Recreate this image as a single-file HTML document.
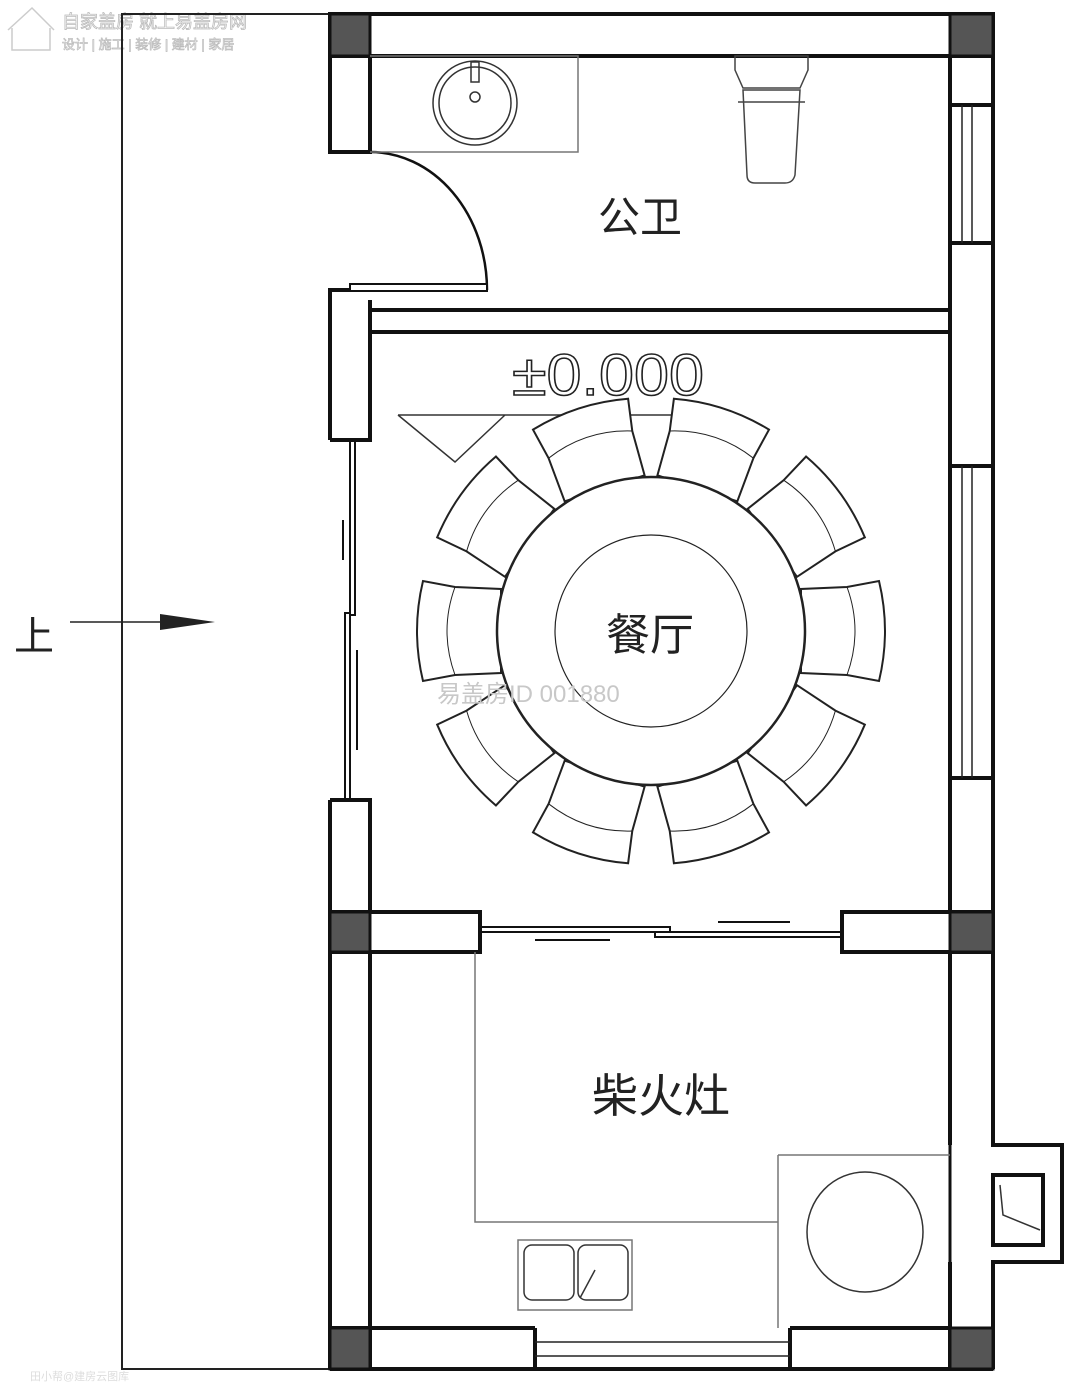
<!DOCTYPE html>
<html><head><meta charset="utf-8"><style>
html,body{margin:0;padding:0;background:#fff;}
svg{display:block;}
text{font-family:"Liberation Sans","Noto Sans CJK SC",sans-serif;}
</style></head><body>
<svg width="1080" height="1385" viewBox="0 0 1080 1385" xmlns="http://www.w3.org/2000/svg">
<rect width="1080" height="1385" fill="#fff"/>
<g fill="none" stroke="#ccc" stroke-width="1.5">
<path d="M8 30 L32 8 L54 30 M12 28 V50 H50 V28"/>
</g>
<text x="62" y="28" font-size="18" fill="#fff" stroke="#bbb" stroke-width="0.8">自家盖房 就上易盖房网</text>
<text x="62" y="49" font-size="13" fill="#fff" stroke="#bbb" stroke-width="0.7">设计 | 施工 | 装修 | 建材 | 家居</text>

<g stroke="#222" stroke-width="2" fill="none">
<path d="M330 14 H122 V1369 H330"/>
</g>
<line x1="70" y1="622" x2="170" y2="622" stroke="#222" stroke-width="1.5"/>
<polygon points="160,614 215,622 160,630" fill="#222"/>
<text x="14" y="650" font-size="40" fill="#222">上</text>

<g stroke="#111" stroke-width="4" fill="none">
<rect x="330" y="14" width="663" height="42"/>
<path d="M330 56 V152 H370 V56"/>
<path d="M330 440 V290 H350 M370 300 V332 M330 440 H370 V332"/>
<path d="M370 310 H950 M370 332 H950"/>
<path d="M950 56 V105 H993 V14 M950 243 H993 V466 H950 V243 M950 778 H993 V912 M950 778 V912"/>
<path d="M950 105 V243 M993 105 V243 M950 466 V778 M993 466 V778" />
<path d="M330 800 H370 V912 M330 800 V1369"/>
<path d="M370 952 V1328"/>
<rect x="330" y="912" width="150" height="40"/>
<rect x="842" y="912" width="151" height="40"/>
<path d="M950 952 V1145 M993 952 V1145 H1062 V1262 H993 V1369 M950 1262 V1328"/>
<path d="M950 1145 V1262" stroke-width="3"/>
<rect x="993" y="1175" width="50" height="70" stroke-width="4"/>
<path d="M330 1328 H535 M330 1369 H993 M790 1328 H950 V1369 M535 1328 V1369 M790 1328 V1369"/>
<path d="M370 1328 V1369"/>
</g>
<g fill="#555" stroke="#111" stroke-width="3">
<rect x="330" y="14" width="40" height="42"/>
<rect x="950" y="14" width="43" height="42"/>
<rect x="330" y="912" width="40" height="40"/>
<rect x="950" y="912" width="43" height="40"/>
<rect x="330" y="1328" width="40" height="41"/>
<rect x="950" y="1328" width="43" height="41"/>
</g>
<g stroke="#222" stroke-width="1.5" fill="none">
<path d="M962 105 V243 M972 105 V243 M962 466 V778 M972 466 V778"/>
<path d="M535 1342 H790 M535 1356 H790"/>
</g>
<path d="M370 152 A117 138 0 0 1 487 290" stroke="#111" stroke-width="2.5" fill="none"/>
<rect x="350" y="284" width="137" height="7" stroke="#111" stroke-width="2" fill="#fff"/>
<g stroke="#111" stroke-width="2" fill="none">
<rect x="350" y="440" width="5" height="175"/>
<rect x="345" y="613" width="5" height="187"/>
<path d="M343 520 V560 M357 650 V750"/>
</g>
<g stroke="#111" stroke-width="2" fill="none">
<rect x="480" y="927" width="190" height="5"/>
<rect x="655" y="932" width="187" height="5"/>
<path d="M535 940 H610 M718 922 H790"/>
</g>
<g stroke="#777" stroke-width="1.5" fill="none">
<path d="M370 56 H578 V152 H370"/>
<circle cx="475" cy="103" r="42" stroke="#333"/>
<circle cx="475" cy="103" r="36" stroke="#333"/>
<path d="M471 62 H479 V82 H471 Z" stroke="#333"/>
<circle cx="475" cy="97" r="5" stroke="#333"/>
<path d="M735 56 H808 V70 L800 88 H743 L735 70 Z" stroke="#444"/>
<path d="M743 90 H800 L795 175 Q793 183 785 183 H755 Q747 183 747 175 Z" stroke="#444"/>
<path d="M738 102 H805" stroke="#444"/>
<path d="M475 952 V1222 H778 M778 1155 H950 M778 1155 V1328"/>
<ellipse cx="865" cy="1232" rx="58" ry="60" stroke="#333"/>
<rect x="518" y="1240" width="114" height="70"/>
<rect x="524" y="1245" width="50" height="55" rx="8" stroke="#333"/>
<rect x="578" y="1245" width="50" height="55" rx="8" stroke="#333"/>
<path d="M595 1270 L580 1298" stroke="#333"/>
<path d="M1000 1185 L1003 1215 L1040 1230" stroke="#333"/>
</g>
<g stroke="#333" stroke-width="1.5" fill="none">
<path d="M398 415 H705 M398 415 L455 462 L505 415"/>
</g>
<text x="512" y="395" font-size="58" fill="#fff" stroke="#222" stroke-width="1.5" textLength="192" lengthAdjust="spacingAndGlyphs">±0.000</text>
<g stroke="#222" stroke-width="2" fill="#fff">
<g transform="translate(651 631) rotate(0)"><path d="M150 -42 L150 42 L196 44 L228 50 Q240 0 228 -50 L196 -44 Z"/><path d="M196 -44 Q212 0 196 44" fill="none" stroke-width="1"/></g>
<g transform="translate(651 631) rotate(36)"><path d="M150 -42 L150 42 L196 44 L228 50 Q240 0 228 -50 L196 -44 Z"/><path d="M196 -44 Q212 0 196 44" fill="none" stroke-width="1"/></g>
<g transform="translate(651 631) rotate(72)"><path d="M150 -42 L150 42 L196 44 L228 50 Q240 0 228 -50 L196 -44 Z"/><path d="M196 -44 Q212 0 196 44" fill="none" stroke-width="1"/></g>
<g transform="translate(651 631) rotate(108)"><path d="M150 -42 L150 42 L196 44 L228 50 Q240 0 228 -50 L196 -44 Z"/><path d="M196 -44 Q212 0 196 44" fill="none" stroke-width="1"/></g>
<g transform="translate(651 631) rotate(144)"><path d="M150 -42 L150 42 L196 44 L228 50 Q240 0 228 -50 L196 -44 Z"/><path d="M196 -44 Q212 0 196 44" fill="none" stroke-width="1"/></g>
<g transform="translate(651 631) rotate(180)"><path d="M150 -42 L150 42 L196 44 L228 50 Q240 0 228 -50 L196 -44 Z"/><path d="M196 -44 Q212 0 196 44" fill="none" stroke-width="1"/></g>
<g transform="translate(651 631) rotate(216)"><path d="M150 -42 L150 42 L196 44 L228 50 Q240 0 228 -50 L196 -44 Z"/><path d="M196 -44 Q212 0 196 44" fill="none" stroke-width="1"/></g>
<g transform="translate(651 631) rotate(252)"><path d="M150 -42 L150 42 L196 44 L228 50 Q240 0 228 -50 L196 -44 Z"/><path d="M196 -44 Q212 0 196 44" fill="none" stroke-width="1"/></g>
<g transform="translate(651 631) rotate(288)"><path d="M150 -42 L150 42 L196 44 L228 50 Q240 0 228 -50 L196 -44 Z"/><path d="M196 -44 Q212 0 196 44" fill="none" stroke-width="1"/></g>
<g transform="translate(651 631) rotate(324)"><path d="M150 -42 L150 42 L196 44 L228 50 Q240 0 228 -50 L196 -44 Z"/><path d="M196 -44 Q212 0 196 44" fill="none" stroke-width="1"/></g>
<circle cx="651" cy="631" r="154" stroke-width="2.5"/>
<circle cx="651" cy="631" r="96" stroke-width="1.2"/>
</g>
<text x="598" y="232" font-size="42" fill="#222">公卫</text>
<text x="606" y="650" font-size="44" fill="#222">餐厅</text>
<text x="437" y="702" font-size="24" fill="#c8c8c8">易盖房ID 001880</text>
<text x="592" y="1112" font-size="46" fill="#222">柴火灶</text>
<text x="30" y="1380" font-size="11" fill="#ddd">田小帮@建房云图库</text>
</svg>
</body></html>
